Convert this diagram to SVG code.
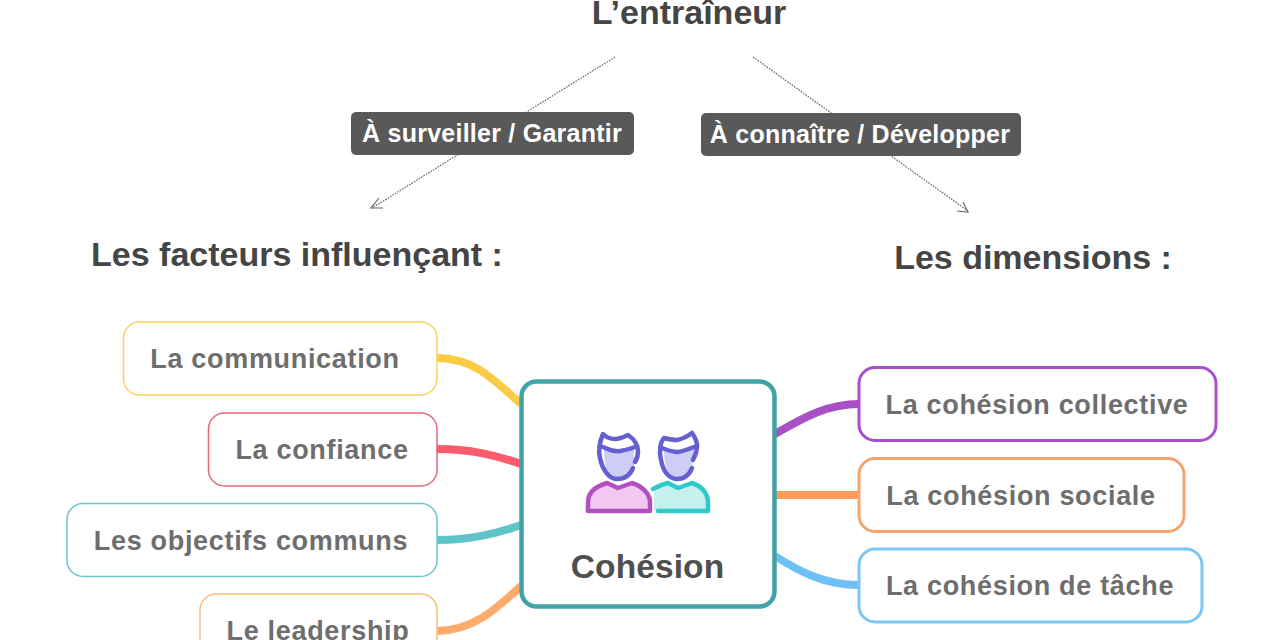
<svg xmlns="http://www.w3.org/2000/svg" width="1280" height="640" viewBox="0 0 1280 640">
<style>
text{font-family:"Liberation Sans",Arial,sans-serif;font-weight:700}
.t{font-size:34px;fill:#454545}
.n{font-size:27px;fill:#6e6e6e;letter-spacing:.68px}
.l{font-size:25px;fill:#fff;letter-spacing:.24px}
.b{fill:#fff;stroke-width:1.5}
.b2{fill:#fff;stroke-width:3}
.c{fill:none;stroke-width:8}
.d{fill:none;stroke:#666;stroke-width:1.2;stroke-dasharray:1.6 1.2}
.a{fill:none;stroke:#666;stroke-width:1.2}
.lb{fill:#595959}
.h{stroke-width:4.500;stroke-linecap:round;stroke-linejoin:round}
</style>
<rect width="1280" height="640" fill="#fff"/>
<g id="connectors">
<path class="d" d="M615 57L372 208"/><path class="a" d="M379 198L371 208L383 208"/>
<path class="d" d="M753 57L968 211"/><path class="a" d="M963 202L968 212L957 211"/>
<path class="c" stroke="#f9cc45" d="M437 358C475 358 495 381 521 404"/>
<path class="c" stroke="#fb5b6c" d="M437 449C470 449 495 455 521 464"/>
<path class="c" stroke="#5fc4c9" d="M437 540C470 540 495 534 521 525"/>
<path class="c" stroke="#fdab6b" d="M437 631C475 630 497 608 521 586"/>
<path class="c" stroke="#a94fc8" stroke-width="8.500" d="M775 434C800 420 825 404 859 404"/>
<path class="c" stroke="#fe9a5a" d="M775 495H859"/>
<path class="c" stroke="#6dc1f7" d="M775 556C800 572 825 585 859 585"/>
</g>
<g id="title"><text class="t" x="689" y="24" text-anchor="middle">L’entraîneur</text></g>
<g id="label-surveiller"><rect class="lb" x="351" y="112" width="283" height="43" rx="5"/><text class="l" x="492" y="142" text-anchor="middle">À surveiller / Garantir</text></g>
<g id="label-connaitre"><rect class="lb" x="701" y="113" width="320" height="43" rx="5"/><text class="l" x="860" y="143" text-anchor="middle">À connaître / Développer</text></g>
<g id="heading-facteurs"><text class="t" x="297" y="266" text-anchor="middle">Les facteurs influençant :</text></g>
<g id="heading-dimensions"><text class="t" x="1033" y="269" text-anchor="middle">Les dimensions :</text></g>
<g id="node-communication"><rect class="b" stroke="#f9d35c" x="123.500" y="322" width="313.500" height="73" rx="16"/><text class="n" x="275" y="368" text-anchor="middle">La communication</text></g>
<g id="node-confiance"><rect class="b" stroke="#e4687a" x="208.500" y="413" width="228.500" height="73" rx="16"/><text class="n" x="322" y="459" text-anchor="middle">La confiance</text></g>
<g id="node-objectifs"><rect class="b" stroke="#6cc6ca" x="67" y="503.500" width="370" height="73" rx="16"/><text class="n" x="251" y="550" text-anchor="middle">Les objectifs communs</text></g>
<g id="node-leadership"><rect class="b" stroke="#f8bd7f" x="200" y="594" width="237" height="73" rx="16"/><text class="n" x="318" y="640" text-anchor="middle">Le leadership</text></g>
<g id="node-collective"><rect class="b2" stroke="#a94fc8" x="859" y="367.500" width="357" height="73" rx="16"/><text class="n" x="1037" y="413.500" text-anchor="middle">La cohésion collective</text></g>
<g id="node-sociale"><rect class="b2" stroke="#f4a56e" x="859" y="458.500" width="325" height="73" rx="16"/><text class="n" x="1021" y="504.500" text-anchor="middle">La cohésion sociale</text></g>
<g id="node-tache"><rect class="b2" stroke="#7cc6f3" x="859" y="549" width="343" height="73" rx="16"/><text class="n" x="1030" y="595" text-anchor="middle">La cohésion de tâche</text></g>
<g id="node-cohesion">
<rect fill="#fff" stroke="#44a3a6" stroke-width="4.500" x="521.500" y="381.500" width="253" height="225" rx="15"/>
<path d="M654 511V490L668 483L678 488L692 483C702 486 708 494 708 502V511Z" fill="#c5f0ee"/>
<path class="h" fill="none" stroke="#2fc9cb" d="M653 489C658 486 663 484 668 483L678 488L692 483C702 486 708 494 708 502V511H658"/>
<path d="M588 511V502C588 492 597 486 607 483L618 488L632 483C642 486 650 494 650 502V511Z" fill="#f2c8f2"/>
<path class="h" fill="none" stroke="#b44fc0" d="M588 511V502C588 492 597 486 607 483L618 488L632 483C642 486 650 494 650 502V511Z"/>
<path d="M604 449C610 451 625 452 634 449L634 465C630 476 624 479 617 479C609 479 604 468 604 449Z" fill="#cdcdf6"/>
<path class="h" fill="none" stroke="#6460cf" d="M633 468C630 476 624 479 617 479C608 479 602 468 600 458C598 450 600 441 603 434C607 438 611 439 615 439C620 439 624 437 628 435C634 439 638 445 638 451C638 455 637 459 635 462M603 447C608 449 614 452 620 451C625 450 630 449 635 447"/>
<path d="M664 449C670 451 685 452 694 449L692 465C689 476 684 479 677 479C669 479 664 468 664 449Z" fill="#cdcdf6"/>
<path class="h" fill="none" stroke="#6460cf" d="M692 468C689 476 684 479 677 479C668 479 663 470 661 460C659 452 660 442 664 438C668 439 672 440 677 440C682 439 688 436 692 433C695 437 697 441 697 446C697 451 695 456 693 460M662 448C667 450 672 452 678 452C684 451 689 449 694 447"/>
<text x="647.500" y="578" text-anchor="middle" font-size="33.500" fill="#4f4f4f" letter-spacing=".1">Cohésion</text>
</g>
</svg>
